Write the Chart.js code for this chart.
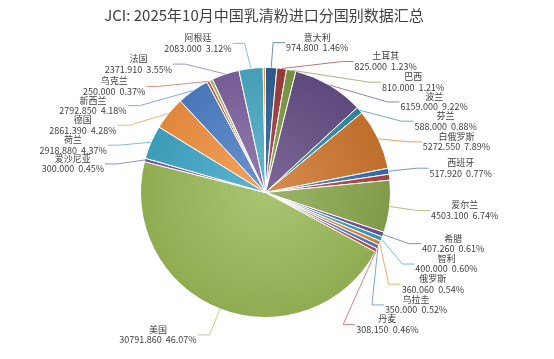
<!DOCTYPE html>
<html><head><meta charset="utf-8">
<script src="https://cdn.jsdelivr.net/npm/chart.js@4/dist/chart.umd.min.js"></script>
<style>html,body{margin:0;padding:0;background:#fff;} canvas{display:block;}</style>
</head><body>
<canvas id="c" width="554" height="359"></canvas>
<script>
const titleText = 'JCI: 2025年10月中国乳清粉进口分国别数据汇总';
const countries = ['意大利','土耳其','巴西','波兰','芬兰','白俄罗斯','西班牙','','爱尔兰','希腊','智利','俄罗斯','乌拉圭','丹麦','美国','爱沙尼亚','荷兰','德国','新西兰','乌克兰','','法国','阿根廷',''];
const volumes = [974.8,825,810,6159,588,5272.55,517.92,510,4503.1,407.26,400,360.06,350,308.15,30791.86,300,2918.88,2861.39,2792.85,250,280,2371.91,2083,200];
const sliceColors = ['#2F5F98','#A13B38','#7E9A45','#654F86','#318CA6','#D0782F',
                     '#3A70B5','#B54541','#8BA94E','#7250A0','#33A2BF','#E88A36',
                     '#4A7EC5','#C0504D','#9BBB59','#7B5AA6','#41A8C8','#F29341',
                     '#4F81C7','#C85A56','#A5C563','#8064A2','#4BACC6','#F6A35A'];
// label block centre relative to slice edge anchor (layout only)
const labelOffsets = [[46,-25],[104,-7],[122,12],[105,17],[86,11],[78,3],[72,-3],null,[75,4],[70,9],[65,25],[53,41],[38,58],[11,74],[-62,26],[-72,4],[-78,3],[-86,12],[-100,15],[-94,5],null,[-87,-10],[-53,-25],null];

function shade(hex, f){
  const n = parseInt(hex.slice(1),16);
  let r = n>>16, g = (n>>8)&255, b = n&255;
  if (f > 0) { r += (255-r)*f; g += (255-g)*f; b += (255-b)*f; }
  else { r *= (1+f); g *= (1+f); b *= (1+f); }
  return 'rgb(' + Math.round(r) + ',' + Math.round(g) + ',' + Math.round(b) + ')';
}
const total = volumes.reduce((a,b)=>a+b,0);
const FONT = '"Noto Sans CJK SC","Microsoft YaHei",sans-serif';

const labelPlugin = {
  id: 'labels',
  afterDraw(chart){
    const ctx = chart.ctx;
    ctx.save();
    // title
    ctx.fillStyle = '#404040';
    ctx.font = '15px ' + FONT;
    ctx.textAlign = 'center';
    ctx.textBaseline = 'middle';
    ctx.fillText(titleText, 264, 15);
    const meta = chart.getDatasetMeta(0);
    ctx.font = '9px ' + FONT;
    meta.data.forEach((arc, i) => {
      const off = labelOffsets[i];
      if (!off || !countries[i]) return;
      const p = arc.getProps(['x','y','startAngle','endAngle','outerRadius'], true);
      const mid = (p.startAngle + p.endAngle) / 2;
      const ax = p.x + Math.cos(mid) * p.outerRadius;
      const ay = p.y + Math.sin(mid) * p.outerRadius;
      const lx = ax + off[0], ly = ay + off[1];
      const name = countries[i];
      const val = volumes[i].toFixed(3) + '  ' + (volumes[i] / total * 100).toFixed(2) + '%';
      const w = Math.max(ctx.measureText(name).width, ctx.measureText(val).width);
      const right = off[0] > 0;
      const edgeX = right ? lx - w/2 - 1 : lx + w/2 + 1;
      const elbowX = right ? edgeX - 12 : edgeX + 12;
      ctx.strokeStyle = shade(sliceColors[i], 0.3);
      ctx.lineWidth = 1;
      ctx.beginPath();
      ctx.moveTo(ax, ay);
      ctx.lineTo(elbowX, ly);
      ctx.lineTo(edgeX, ly);
      ctx.stroke();
      ctx.fillStyle = '#404040';
      ctx.textAlign = 'center';
      ctx.textBaseline = 'middle';
      ctx.fillText(name, lx, ly - 5.5);
      ctx.fillText(val, lx, ly + 5);
    });
    ctx.restore();
  }
};

new Chart(document.getElementById('c'), {
  type: 'pie',
  data: {
    labels: countries,
    datasets: [{
      data: volumes,
      backgroundColor: (c) => {
        const chart = c.chart, a = chart.chartArea;
        const base = sliceColors[c.dataIndex % sliceColors.length];
        if (!a) return base;
        const cx = (a.left + a.right) / 2, cy = (a.top + a.bottom) / 2;
        const r = Math.min(a.width, a.height) / 2;
        const g = chart.ctx.createRadialGradient(cx, cy, 0, cx, cy, r);
        g.addColorStop(0, shade(base, 0.15));
        g.addColorStop(1, shade(base, -0.08));
        return g;
      },
      borderColor: '#ffffff',
      borderWidth: 1
    }]
  },
  options: {
    responsive: false,
    animation: false,
    devicePixelRatio: 1,
    layout: { padding: { left: 140, right: 163, top: 67, bottom: 41 } },
    plugins: { legend: { display: false }, tooltip: { enabled: false }, title: { display: false } }
  },
  plugins: [labelPlugin]
});
</script>
</body></html>
